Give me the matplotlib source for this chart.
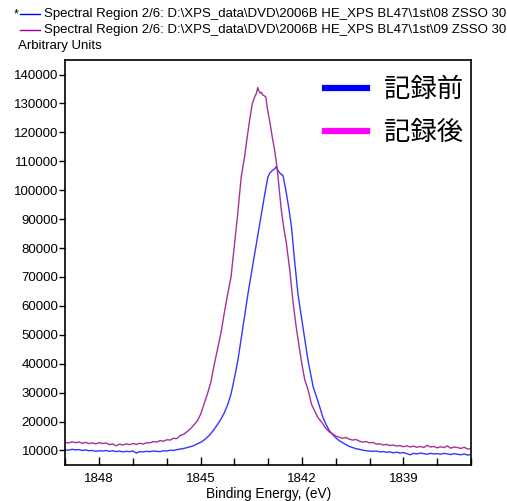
import matplotlib
matplotlib.use("Agg")
import matplotlib.pyplot as plt
from matplotlib.lines import Line2D
from matplotlib.ticker import MultipleLocator

plt.rcParams['font.family'] = ['Liberation Sans', 'DejaVu Sans']

# Binding energy (eV) and counts for the two spectra
energy_after = [1849.00, 1848.90, 1848.80, 1848.70, 1848.60, 1848.50, 1848.40, 1848.30, 1848.20, 1848.10,
                1848.00, 1847.90, 1847.80, 1847.70, 1847.60, 1847.50, 1847.40, 1847.30, 1847.20, 1847.10,
                1847.00, 1846.90, 1846.80, 1846.70, 1846.60, 1846.50, 1846.40, 1846.30, 1846.20, 1846.10,
                1846.00, 1845.90, 1845.80, 1845.70, 1845.60, 1845.50, 1845.40, 1845.30, 1845.20, 1845.10,
                1845.00, 1844.90, 1844.80, 1844.70, 1844.60, 1844.50, 1844.40, 1844.30, 1844.20, 1844.10,
                1844.00, 1843.90, 1843.80, 1843.70, 1843.62, 1843.55, 1843.47, 1843.40, 1843.35, 1843.31,
                1843.27, 1843.24, 1843.20, 1843.17, 1843.12, 1843.07, 1843.02, 1842.96, 1842.88, 1842.81,
                1842.74, 1842.68, 1842.61, 1842.54, 1842.46, 1842.36, 1842.27, 1842.17, 1842.02, 1841.92,
                1841.82, 1841.72, 1841.62, 1841.53, 1841.40, 1841.30, 1841.20, 1841.10, 1841.00, 1840.90,
                1840.80, 1840.70, 1840.60, 1840.50, 1840.40, 1840.30, 1840.20, 1840.10, 1840.00, 1839.90,
                1839.80, 1839.70, 1839.60, 1839.50, 1839.40, 1839.30, 1839.20, 1839.10, 1839.00, 1838.90,
                1838.80, 1838.70, 1838.60, 1838.50, 1838.40, 1838.30, 1838.20, 1838.10, 1838.00, 1837.90,
                1837.80, 1837.70, 1837.60, 1837.50, 1837.40, 1837.30, 1837.20, 1837.10, 1837.00]
counts_after = [12800, 12600, 13000, 12700, 12900, 12500, 12800, 12400, 12600, 12300,
                12700, 12400, 12600, 12000, 12300, 11600, 12200, 11900, 12300, 12000,
                12400, 12100, 12500, 12200, 12700, 12600, 13100, 12900, 13400, 13200,
                13700, 13600, 14200, 14100, 15200, 15600, 16500, 17500, 18800, 20200,
                22500, 26000, 29500, 33500, 39500, 45000, 50500, 57500, 64000, 70000,
                81000, 92000, 104500, 111500, 118500, 124200, 130000, 132300, 133500, 135500,
                134200, 133600, 133900, 133000, 132700, 132200, 128000, 124200, 118400, 113800,
                108000, 101000, 93000, 87000, 81500, 72200, 61800, 52500, 41000, 34500,
                31000, 26000, 23500, 21400, 19500, 17700, 16500, 15800, 15000, 14600,
                14200, 14500, 13900, 13600, 13800, 13200, 12900, 13100, 12600, 12800,
                12200, 12300, 11900, 12100, 11700, 11900, 11500, 11700, 11300, 11600,
                11200, 11500, 11100, 11400, 11000, 11800, 11200, 11400, 10900, 11300,
                11000, 11600, 10800, 11200, 11000, 10700, 11100, 10500, 10700]

energy_before = [1849.00, 1848.90, 1848.80, 1848.70, 1848.60, 1848.50, 1848.40, 1848.30, 1848.20, 1848.10,
                 1848.00, 1847.90, 1847.80, 1847.70, 1847.60, 1847.50, 1847.40, 1847.30, 1847.20, 1847.10,
                 1847.00, 1846.90, 1846.80, 1846.70, 1846.60, 1846.50, 1846.40, 1846.30, 1846.20, 1846.10,
                 1846.00, 1845.90, 1845.80, 1845.70, 1845.60, 1845.50, 1845.40, 1845.30, 1845.20, 1845.10,
                 1845.00, 1844.90, 1844.80, 1844.70, 1844.60, 1844.50, 1844.40, 1844.30, 1844.20, 1844.10,
                 1844.00, 1843.90, 1843.75, 1843.60, 1843.50, 1843.35, 1843.20, 1843.10, 1843.01, 1842.95,
                 1842.88, 1842.80, 1842.76, 1842.72, 1842.66, 1842.56, 1842.46, 1842.38, 1842.31, 1842.22,
                 1842.12, 1841.97, 1841.82, 1841.67, 1841.53, 1841.38, 1841.30, 1841.20, 1841.10, 1841.00,
                 1840.90, 1840.80, 1840.70, 1840.60, 1840.50, 1840.40, 1840.30, 1840.20, 1840.10, 1840.00,
                 1839.90, 1839.80, 1839.70, 1839.60, 1839.50, 1839.40, 1839.30, 1839.20, 1839.10, 1839.00,
                 1838.90, 1838.80, 1838.70, 1838.60, 1838.50, 1838.40, 1838.30, 1838.20, 1838.10, 1838.00,
                 1837.90, 1837.80, 1837.70, 1837.60, 1837.50, 1837.40, 1837.30, 1837.20, 1837.10, 1837.00]
counts_before = [10200, 10100, 10400, 10200, 10300, 10000, 10200, 9900, 10000, 9700,
                 9900, 9800, 10000, 9700, 9900, 9600, 9800, 9500, 9700, 9600,
                 9800, 9100, 9600, 9500, 9700, 9600, 9800, 9700, 9600, 9900,
                 9800, 10100, 10000, 10300, 10500, 10700, 11000, 11300, 11700, 12300,
                 12800, 13600, 14600, 15800, 17300, 19000, 20800, 23000, 25800, 29500,
                 35000, 41000, 52500, 64100, 71100, 81500, 91900, 98800, 104500, 106000,
                 106800, 107500, 108200, 107000, 106000, 105000, 98800, 93000, 87200, 75700,
                 64100, 52500, 41000, 32000, 27100, 21400, 19300, 17000, 15600, 14400,
                 13400, 12700, 12000, 11400, 11000, 10600, 10400, 10100, 9900, 9800,
                 9700, 9800, 9500, 9600, 9400, 9500, 9200, 9400, 9100, 9300,
                 8900, 8500, 9000, 8800, 9100, 8900, 8700, 9000, 8800, 8900,
                 8700, 9000, 8800, 8600, 8900, 8700, 8500, 8800, 8400, 8600]

legend_labels = ['記録前', '記録後']
x_major_ticks = [1848, 1845, 1842, 1839]
y_ticks = [10000, 20000, 30000, 40000, 50000, 60000, 70000, 80000, 90000,
           100000, 110000, 120000, 130000, 140000]
header_lines = [r'Spectral Region 2/6: D:\XPS_data\DVD\2006B HE_XPS BL47\1st\08 ZSSO 30',
                r'Spectral Region 2/6: D:\XPS_data\DVD\2006B HE_XPS BL47\1st\09 ZSSO 30']

fig = plt.figure(figsize=(5.07, 5.01), dpi=100)
ax = fig.add_axes([0.129, 0.072, 0.800, 0.808])

ax.plot(energy_before, counts_before, color='#3535FF', lw=1.0)
ax.plot(energy_after, counts_after, color='#A83098', lw=1.0)

ax.set_xlim(1849.0, 1837.0)
ax.set_ylim(5000, 145000)
ax.set_xticks(x_major_ticks)
ax.xaxis.set_minor_locator(MultipleLocator(1))
ax.set_yticks(y_ticks)
ax.tick_params(axis='x', direction='in', length=6, width=1, labelsize=9.5, pad=6)
ax.tick_params(axis='x', which='minor', direction='in', length=5, width=1)
ax.tick_params(axis='y', direction='out', length=4, width=1, labelsize=9.5, pad=1)
for s in ax.spines.values():
    s.set_linewidth(1.2)
ax.set_xlabel('Binding Energy, (eV)', fontsize=9.8, labelpad=1)

handles = [Line2D([], [], color='#0000FF', lw=4.5),
           Line2D([], [], color='#FF00FF', lw=4.5)]
leg = ax.legend(handles, legend_labels, loc='upper right', frameon=False,
                prop={'family': ['Noto Sans CJK JP'], 'size': 19},
                handlelength=1.6, handletextpad=0.65, labelspacing=0.62,
                borderaxespad=0.0, borderpad=0.3, bbox_to_anchor=(1.0, 0.98))

# header
fig.text(14 / 507, 1 - 14 / 501, '*', fontsize=9, va='center', ha='left')
fig.add_artist(Line2D([20 / 507, 40 / 507], [1 - 14 / 501, 1 - 14 / 501], color='#0000FF', lw=1))
fig.add_artist(Line2D([20 / 507, 40 / 507], [1 - 30 / 501, 1 - 30 / 501], color='#990099', lw=1))
fig.text(44 / 507, 1 - 14 / 501, header_lines[0], fontsize=9.5, va='center', ha='left')
fig.text(44 / 507, 1 - 30 / 501, header_lines[1], fontsize=9.5, va='center', ha='left')
fig.text(18 / 507, 1 - 46 / 501, 'Arbitrary Units', fontsize=9.5, va='center', ha='left')

fig.savefig('out.png', dpi=100)
